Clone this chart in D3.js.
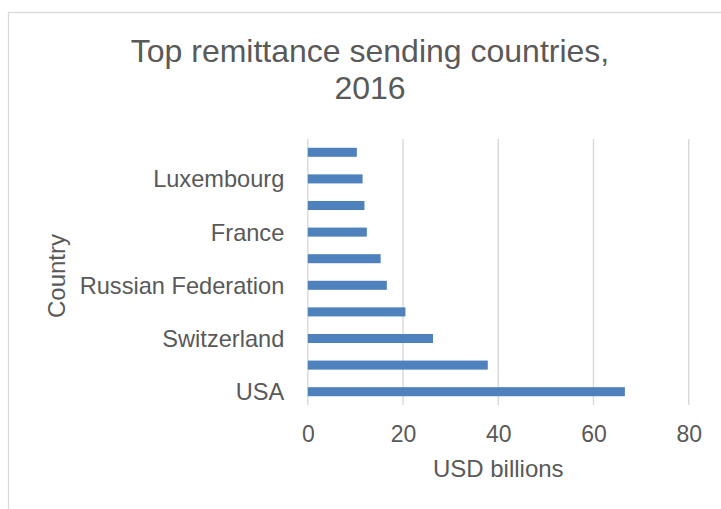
<!DOCTYPE html>
<html>
<head>
<meta charset="utf-8">
<script src="https://cdn.jsdelivr.net/npm/d3@7"></script>
<style>
  html, body { margin: 0; padding: 0; background: #fff; }
  svg { display: block; font-family: "Liberation Sans", Arial, sans-serif; }
</style>
</head>
<body>
<svg id="chart" width="721" height="509"></svg>
<script>
// Countries listed from the largest sender upward
const countries = ["USA", "Saudi Arabia", "Switzerland", "Germany", "Russian Federation",
                   "Kuwait", "France", "Qatar", "Luxembourg", "Netherlands"];
// Outgoing remittances, USD billions
const remittances = [66.6, 37.8, 26.3, 20.5, 16.6, 15.3, 12.4, 11.9, 11.5, 10.3];
const xTicks = [0, 20, 40, 60, 80];

const chartTitle = ["Top remittance sending countries,", "2016"];
const xTitle = "USD billions";
const yTitle = "Country";

const W = 721, H = 509;
const margin = { top: 139, right: 32.3, bottom: 104, left: 307.8 };
const textColor = "#595959";

const svg = d3.select("#chart");

// Chart area frame
svg.append("rect")
  .attr("x", 8.5).attr("y", 12.5)
  .attr("width", W + 10).attr("height", H)
  .attr("fill", "none").attr("stroke", "#d9d9d9").attr("stroke-width", 1.3);

const x = d3.scaleLinear().domain([0, 80]).range([margin.left, W - margin.right]);
const y = d3.scaleBand()
  .domain(countries)
  .range([H - margin.bottom, margin.top])
  .paddingInner(0.66)
  .paddingOuter(0.33);

// Vertical gridlines
svg.append("g")
  .selectAll("line")
  .data(xTicks)
  .join("line")
  .attr("x1", d => x(d)).attr("x2", d => x(d))
  .attr("y1", margin.top).attr("y2", H - margin.bottom)
  .attr("stroke", "#d9d9d9").attr("stroke-width", 1.4);

// Bars
svg.append("g")
  .selectAll("rect")
  .data(countries.map((c, i) => ({ c, v: remittances[i] })))
  .join("rect")
  .attr("x", x(0))
  .attr("y", d => y(d.c))
  .attr("width", d => x(d.v) - x(0))
  .attr("height", y.bandwidth())
  .attr("fill", "#4f81bd");

// X axis labels
const xAxis = svg.append("g")
  .attr("transform", `translate(0,${H - margin.bottom})`)
  .call(d3.axisBottom(x).tickValues(xTicks).tickSize(0).tickPadding(0));
xAxis.select(".domain").remove();
xAxis.selectAll("text")
  .attr("dy", null).attr("y", 37)
  .attr("fill", textColor).style("font-size", "23px");

// Y axis labels: every other category is labelled
const yAxis = svg.append("g")
  .attr("transform", `translate(${margin.left},0)`)
  .call(d3.axisLeft(y).tickValues(countries.filter((c, i) => i % 2 === 0)).tickSize(0).tickPadding(23.5));
yAxis.select(".domain").remove();
yAxis.selectAll("text")
  .attr("dy", "0.36em")
  .attr("fill", textColor).style("font-size", "23.6px");

// Title
svg.append("text")
  .attr("x", 370).attr("y", 62)
  .attr("text-anchor", "middle")
  .attr("fill", textColor).style("font-size", "32px")
  .selectAll("tspan")
  .data(chartTitle)
  .join("tspan")
  .attr("x", 370)
  .attr("dy", (d, i) => i === 0 ? 0 : 36.5)
  .text(d => d);

// Axis titles
svg.append("text")
  .attr("x", (x(0) + x(80)) / 2).attr("y", 477)
  .attr("text-anchor", "middle")
  .attr("fill", textColor).style("font-size", "24px")
  .text(xTitle);

svg.append("text")
  .attr("transform", `translate(65,276) rotate(-90)`)
  .attr("text-anchor", "middle")
  .attr("fill", textColor).style("font-size", "24px")
  .text(yTitle);
</script>
</body>
</html>
